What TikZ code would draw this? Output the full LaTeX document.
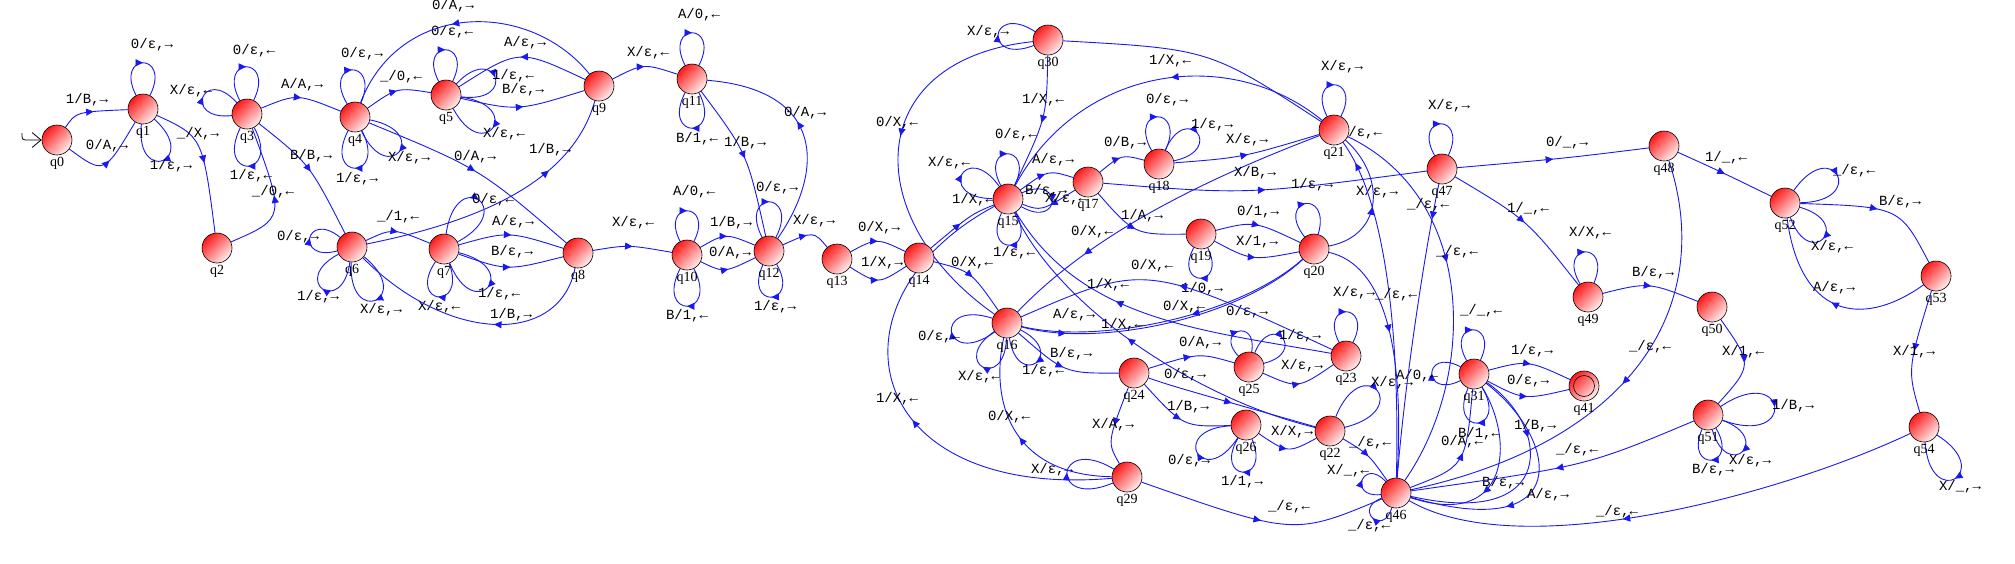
\documentclass[tikz,border=0pt]{standalone}
\usepackage{fontspec}
\newfontfamily\monof{Liberation Mono}
\newfontfamily\seriff{Liberation Serif}
\usetikzlibrary{calc,arrows.meta,decorations.markings,backgrounds}
\definecolor{eblue}{RGB}{25,25,240}
\definecolor{nred}{RGB}{255,25,25}
\definecolor{npink}{RGB}{255,240,240}
\tikzset{
  statebox/.style={circle,draw=black,line width=0.6pt,minimum size=30pt,inner sep=0pt,
    top color=nred,bottom color=npink,shading angle=45},
  slab/.style={font=\seriff\fontsize{14}{14}\selectfont,inner sep=0.5pt,text=black},
  lab/.style={font=\monof\fontsize{14}{14}\selectfont,inner sep=0pt,text=black},
  tr/.style={draw=eblue,line width=0.9pt},
  arrowat/.style={postaction={decorate,decoration={markings,
    mark=at position #1 with {\arrow[eblue]{Triangle[length=7.5pt,width=7pt]}}}}}
}
\newcommand\mkstate[3]{\node[statebox,label={[slab,label distance=1pt]-90:#1}] (#1) at (#2,#3) {};}
\newcommand\tedge[5]{\draw[tr,arrowat=0.5] (#1) .. controls ($1.33333*(#3)-0.166667*(#1)-0.166667*(#2)$) .. (#2) node[lab] at (#5) {#4};}
\newcommand\tedgeC[7]{\draw[tr,arrowat=#5] (#1) .. controls (#3) and (#4) .. (#2) node[lab] at (#7) {#6};}
\newcommand\tplain[3]{\draw[tr] (#1) .. controls ($1.33333*(#3)-0.166667*(#1)-0.166667*(#2)$) .. (#2);}
\newcommand\lpSpread{27}
\newcommand\tloopN[3]{%
  \pgfmathtruncatemacro\lpA{mod(#2+\lpSpread+720,360)}%
  \pgfmathtruncatemacro\lpB{mod(#2-\lpSpread+720,360)}%
  \pgfmathsetmacro\lpD{(8*#3-30*cos(\lpSpread))/(6*cos(\lpSpread))-15}%
  \draw[tr,arrowat=0.5] (#1.\lpA) .. controls +(\lpA:\lpD pt) and +(\lpB:\lpD pt) .. (#1.\lpB)}
\newcommand\tloop[5]{\tloopN{#1}{#2}{#3} node[lab] at (#5) {#4};}
\begin{document}
\begin{tikzpicture}[x=1pt,y=-1pt]
\useasboundingbox (0,0) rectangle (2015,563);
% states
\mkstate{q0}{57}{140}
\mkstate{q1}{143}{109}
\mkstate{q2}{217}{248}
\mkstate{q3}{247}{114}
\mkstate{q4}{355}{117}
\mkstate{q5}{446}{95}
\mkstate{q6}{352}{247}
\mkstate{q7}{444}{249}
\mkstate{q8}{578}{253}
\mkstate{q9}{599}{86}
\mkstate{q10}{687}{255}
\mkstate{q11}{692}{79}
\mkstate{q12}{769}{251}
\mkstate{q13}{837}{259}
\mkstate{q14}{919}{258}
\mkstate{q15}{1008}{199}
\mkstate{q16}{1007}{323}
\mkstate{q17}{1088}{182}
\mkstate{q18}{1159}{164}
\mkstate{q19}{1201}{234}
\mkstate{q20}{1314}{249}
\mkstate{q21}{1334}{130}
\mkstate{q22}{1330}{431}
\mkstate{q23}{1346}{356}
\mkstate{q24}{1134}{373}
\mkstate{q25}{1249}{367}
\mkstate{q26}{1246}{425}
\mkstate{q29}{1127}{477}
\mkstate{q30}{1048}{40}
\mkstate{q31}{1474}{374}
\mkstate{q41}{1584}{386}
\node[circle,draw=black,line width=0.6pt,minimum size=21pt,inner sep=0pt] (q41in) at (q41) {};
\mkstate{q46}{1396}{493}
\mkstate{q47}{1442}{169}
\mkstate{q48}{1664}{146}
\mkstate{q49}{1588}{297}
\mkstate{q50}{1712}{307}
\mkstate{q51}{1708}{415}
\mkstate{q52}{1785}{203}
\mkstate{q53}{1936}{276}
\mkstate{q54}{1924}{427}
% initial arrow
\coordinate (q0init) at (22,133);
\draw[black,line width=0.8pt,-{Straight Barb[length=9pt,width=15pt]}] (q0init) .. controls (22,140) .. (29,140) -- (q0);
\begin{pgfonlayer}{background}
\fill[white] (0,0) rectangle (2015,563);
% loops
\tloop{q1}{90}{46}{0/ε,→}{152,45}
\tloop{q1}{-69}{55}{1/ε,→}{171,166}
\tloop{q3}{91}{47}{0/ε,←}{254,51}
\tloop{q3}{159}{47}{X/ε,←}{191,91}
\tloop{q3}{-89}{52}{1/ε,←}{251,176}
\tloop{q4}{94}{47}{0/ε,→}{362,54}
\tloop{q4}{-90}{51}{1/ε,→}{357,179}
\tloop{q4}{-38}{56}{X/ε,→}{409,158}
\tloop{q5}{91}{45}{0/ε,←}{452,32}
\tloop{q5}{20}{52}{1/ε,←}{513,76}
\tloop{q5}{-35}{57}{X/ε,←}{504,134}
\tloop{q6}{168}{43}{0/ε,→}{298,237}
\tloop{q6}{-125}{51}{1/ε,→}{318,297}
\tloop{q6}{-66}{58}{X/ε,→}{381,310}
\tloop{q7}{55}{60}{0/ε,←}{493,200}
\tloop{q7}{-41}{58}{1/ε,←}{499,294}
\tloop{q7}{-97}{48}{X/ε,←}{439,307}
\tloop{q10}{90}{44}{A/0,←}{694,192}
\tloop{q10}{-90}{51}{B/1,←}{687,316}
\tloop{q11}{90}{46}{A/0,←}{699,15}
\tloop{q11}{-90}{49}{B/1,←}{697,139}
\tloop{q12}{90}{49}{0/ε,→}{777,188}
\tloop{q12}{-87}{46}{1/ε,→}{775,307}
\tloop{q15}{91}{45}{0/ε,←}{1016,135}
\tloop{q15}{152}{52}{X/ε,←}{949,163}
\tloop{q15}{-88}{46}{1/ε,←}{1014,253}
\tloop{q15}{-3}{44}{B/ε,→}{1046,191}
\tloop{q16}{189}{56}{0/ε,←}{939,337}
\tloop{q16}{-119}{50}{X/ε,←}{979,377}
\tloop{q16}{-54}{49}{1/ε,←}{1043,371}
\tloop{q18}{92}{47}{0/ε,→}{1167,100}
\tloop{q18}{39}{49}{1/ε,→}{1212,125}
\tloop{q19}{-91}{44}{1/0,→}{1202,289}
\tloopN{q20}{101}{46};
\tloop{q21}{90}{45}{X/ε,→}{1342,67}
\tloop{q47}{92}{45}{X/ε,→}{1449,106}
\tloop{q49}{94}{45}{X/X,←}{1590,233}
\tloop{q23}{90}{44}{X/ε,→}{1354,293}
\tloop{q25}{107}{37}{0/ε,→}{1247,312}
\tloop{q25}{41}{44}{1/ε,→}{1300,336}
\tloop{q26}{-150}{56}{0/ε,→}{1189,461}
\tloop{q26}{-94}{47}{1/1,→}{1242,482}
\tloop{q22}{41}{62}{X/ε,→}{1392,383}
\tloop{q31}{92}{44}{\_/\_,←}{1481,311}
\tloop{q31}{179}{42}{A/0,←}{1417,376}
\tloop{q31}{-86}{49}{B/1,←}{1479,434}
\tloop{q46}{159}{36}{X/\_,←}{1348,471}
\tloop{q46}{-133}{34}{\_/ε,←}{1369,526}
\tloop{q30}{174}{50}{X/ε,→}{988,32}
\tloop{q29}{176}{60}{X/ε,→}{1052,470}
\tloop{q51}{7}{67}{1/B,→}{1793,406}
\tloop{q51}{-47}{50}{X/ε,→}{1750,461}
\tloop{q51}{-86}{45}{B/ε,→}{1713,470}
\tloop{q52}{28}{59}{\_/ε,←}{1854,171}
\tloop{q52}{-43}{52}{X/ε,←}{1832,247}
\tloop{q54}{-59}{60}{X/\_,→}{1960,487}
% transitions
\tedge{q0}{q1}{82,115}{1/B,→}{87,100}
\tedge{q0}{q1}{103,162}{0/A,→}{107,146}
\tedge{q1}{q2}{197,147}{\_/X,→}{198,134}
\tedge{q2}{q3}{272,209}{\_/0,←}{273,192}
\tedge{q3}{q4}{298,99}{A/A,→}{302,85}
\tedge{q3}{q6}{307,168}{B/B,→}{311,156}
\tedge{q4}{q5}{398,92}{\_/0,←}{401,77}
\tedgeC{q9}{q4}{530,0}{400,0}{0.55}{0/A,→}{453,6}
\tedge{q4}{q8}{477,173}{0/A,→}{475,157}
\tedge{q5}{q9}{519,106}{B/ε,→}{523,90}
\tedge{q9}{q5}{520,59}{A/ε,→}{525,43}
\tedge{q9}{q11}{644,68}{X/ε,←}{648,53}
\tedgeC{q6}{q9}{460,225}{570,190}{0.7}{1/B,→}{550,150}
\tedge{q6}{q7}{394,233}{\_/1,←}{398,217}
\tedgeC{q8}{q6}{560,345}{450,345}{0.42}{1/B,→}{511,315}
\tedge{q7}{q8}{509,236}{A/ε,→}{513,222}
\tedge{q7}{q8}{508,266}{B/ε,→}{512,252}
\tedge{q8}{q10}{629,247}{X/ε,←}{633,223}
\tedge{q10}{q12}{726,238}{1/B,→}{731,223}
\tedge{q10}{q12}{725,268}{0/A,→}{730,253}
\tedge{q11}{q12}{743,156}{1/B,→}{745,143}
\tedgeC{q12}{q11}{825,170}{825,90}{0.55}{0/A,→}{805,113}
\tedge{q12}{q13}{811,237}{X/ε,→}{814,221}
\tedge{q13}{q14}{877,243}{0/X,→}{879,228}
\tedge{q13}{q14}{878,278}{1/X,→}{882,263}
\tedge{q14}{q15}{969,218}{1/X,←}{973,200}
\tedge{q14}{q16}{969,276}{0/X,←}{972,263}
\tedgeC{q30}{q16}{860,60}{860,220}{0.45}{0/X,←}{897,123}
\tedge{q30}{q15}{1042,118}{1/X,←}{1043,100}
\tplain{q30}{q21}{1205,58}
\tedgeC{q21}{q15}{1230,45}{1080,65}{0.45}{1/X,←}{1170,61}
\tedge{q18}{q21}{1243,155}{X/ε,→}{1247,140}
\tedgeC{q21}{q16}{1230,170}{1100,225}{0.75}{0/X,←}{1092,232}
\node[lab] (lxb) at (1255,173) {X/B,→};
\tedgeC{q20}{q21}{1385,235}{1385,175}{0.45}{X/ε,→}{1377,192}
\tedgeC{q21}{q46}{1480,200}{1475,380}{0.42}{\_/ε,←}{1457,252}
\tedgeC{q47}{q46}{1425,250}{1405,380}{0.12}{\_/ε,←}{1428,205}
\tedgeC{q46}{q21}{1400,330}{1385,200}{0.93}{\_/ε,←}{1361,133}
\tedge{q17}{q47}{1252,190}{1/ε,→}{1312,185}
\tedge{q17}{q18}{1122,159}{0/B,→}{1125,143}
\tedge{q17}{q19}{1137,228}{1/A,→}{1142,216}
\tedge{q15}{q17}{1048,175}{A/ε,→}{1053,160}
\tedge{q17}{q15}{1043,206}{X/ε,←}{1066,199}
\tedge{q19}{q20}{1255,226}{0/1,→}{1258,212}
\tedge{q19}{q20}{1253,256}{X/1,→}{1257,242}
\tedgeC{q20}{q46}{1385,265}{1405,350}{0.42}{\_/ε,←}{1396,295}
\tedgeC{q20}{q16}{1240,315}{1100,345}{0.42}{0/X,←}{1184,307}
\tedgeC{q16}{q20}{1100,348}{1240,318}{0.15}{A/ε,→}{1074,315}
\tedge{q16}{q24}{1066,367}{B/ε,→}{1071,354}
\tedge{q23}{q16}{1153,282}{0/X,←}{1152,266}
\tedgeC{q23}{q15}{1200,330}{1080,320}{0.62}{1/X,←}{1108,285}
\tedgeC{q22}{q15}{1200,400}{1060,310}{0.55}{1/X,←}{1122,325}
\tedge{q24}{q25}{1197,357}{0/A,→}{1200,343}
\tedge{q24}{q22}{1187,390}{0/ε,→}{1185,375}
\tedge{q24}{q26}{1185,420}{1/B,→}{1188,407}
\tedge{q24}{q29}{1113,438}{X/A,→}{1113,425}
\tedge{q25}{q23}{1298,382}{X/ε,→}{1302,366}
\tedge{q26}{q22}{1288,447}{X/X,→}{1292,432}
\tedge{q22}{q46}{1367,456}{\_/ε,←}{1370,443}
\tedgeC{q29}{q15}{860,500}{820,300}{0.45}{1/X,←}{897,399}
\tedgeC{q29}{q16}{1010,475}{990,400}{0.5}{0/X,←}{1009,417}
\tedge{q29}{q46}{1286,523}{\_/ε,←}{1289,507}
\tedge{q46}{q31}{1458,458}{0/A,←}{1462,442}
\tedgeC{q31}{q46}{1515,440}{1510,530}{0.6}{B/ε,→}{1503,483}
\tedgeC{q31}{q46}{1560,440}{1575,545}{0.62}{A/ε,→}{1548,495}
\tedgeC{q31}{q46}{1550,425}{1560,530}{0.3}{1/B,→}{1535,426}
\tedge{q31}{q41}{1528,365}{1/ε,→}{1532,351}
\tedge{q31}{q41}{1525,395}{0/ε,→}{1528,381}
\tedge{q47}{q48}{1563,158}{0/\_,→}{1567,143}
\tedge{q47}{q49}{1524,223}{1/\_,←}{1528,209}
\tedge{q49}{q50}{1649,287}{B/ε,→}{1653,273}
\tedge{q50}{q51}{1742,364}{X/1,←}{1743,352}
\tedgeC{q48}{q46}{1715,300}{1640,440}{0.5}{\_/ε,←}{1650,347}
\tedge{q48}{q52}{1723,173}{1/\_,←}{1726,158}
\tedge{q52}{q53}{1890,215}{B/ε,→}{1900,202}
\tedgeC{q53}{q52}{1860,330}{1800,315}{0.5}{A/ε,→}{1834,288}
\tedge{q53}{q54}{1913,365}{X/1,→}{1914,352}
\tedge{q51}{q46}{1578,463}{\_/ε,←}{1577,450}
\tedgeC{q54}{q46}{1780,495}{1520,565}{0.58}{\_/ε,←}{1617,512}
\end{pgfonlayer}
\end{tikzpicture}
\end{document}
